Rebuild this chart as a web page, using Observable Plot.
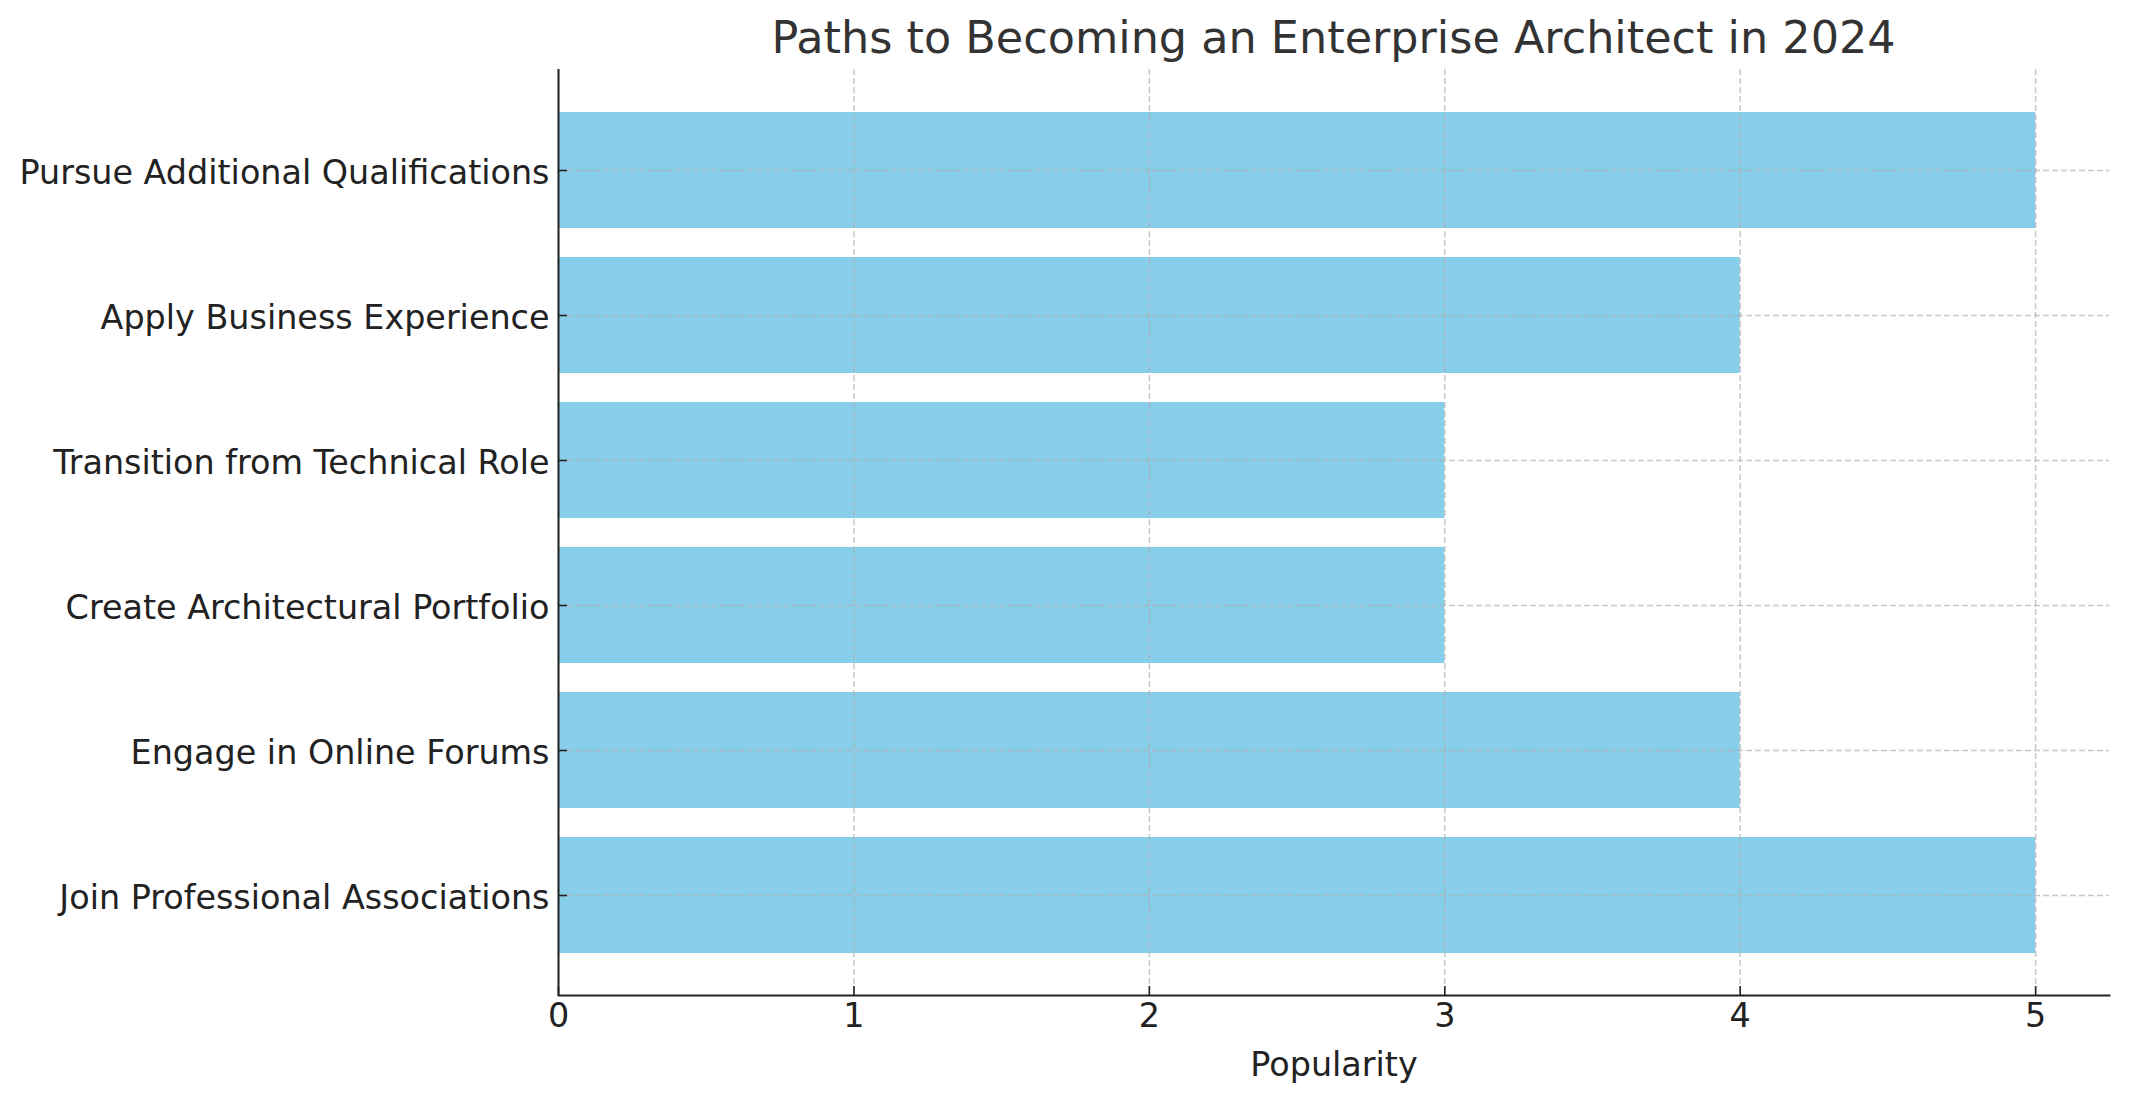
<!DOCTYPE html>
<html>
<head>
<meta charset="utf-8">
<script src="https://cdn.jsdelivr.net/npm/d3@7"></script>
<script src="https://cdn.jsdelivr.net/npm/@observablehq/plot@0.6"></script>
<style>
  html, body { margin: 0; padding: 0; background: #fff; }
  body { width: 2129px; height: 1101px; overflow: hidden; font-family: "DejaVu Sans", sans-serif; }
  #title { box-sizing: border-box; height: 66px; padding: 10px 20px 0 558px; line-height: 56px; font-size: 44.5px; color: #333; text-align: center; white-space: nowrap; }
</style>
</head>
<body>
<div id="title">Paths to Becoming an Enterprise Architect in 2024</div>
<div id="chart"></div>
<script>
const paths = [
  "Join Professional Associations",
  "Engage in Online Forums",
  "Create Architectural Portfolio",
  "Transition from Technical Role",
  "Apply Business Experience",
  "Pursue Additional Qualifications"
];
const popularity = [5, 4, 3, 3, 4, 5];
const xTicks = [0, 1, 2, 3, 4, 5];

const data = paths.map((p, i) => ({path: p, value: popularity[i]}));

const chart = Plot.plot({
  width: 2129,
  height: 1035,
  marginLeft: 558,
  marginRight: 20,
  marginTop: 3,
  marginBottom: 106,
  style: {fontFamily: "DejaVu Sans, sans-serif", fontSize: "33.4px", color: "#222", background: "#fff"},
  x: {domain: [0, 5.25], ticks: xTicks, tickFormat: d3.format("d")},
  y: {domain: paths.slice().reverse(), paddingInner: 0.2, paddingOuter: 0.29},
  marks: [
    Plot.barX(data, {x: "value", y: "path", fill: "#87CEEB"}),
    Plot.gridX(xTicks, {stroke: "#b0b0b0", strokeOpacity: 0.7, strokeWidth: 1.5, strokeDasharray: "6,3"}),
    Plot.gridY(paths, {stroke: "#b0b0b0", strokeOpacity: 0.7, strokeWidth: 1.5, strokeDasharray: "6,3"}),
    Plot.axisX(xTicks, {tickSize: 0, tickPadding: 8, fontSize: 33.4, tickFormat: d3.format("d"), label: "Popularity", labelAnchor: "center", labelOffset: 80, labelArrow: "none"}),
    Plot.axisX(xTicks, {tickSize: -9, text: null, label: null, stroke: "#222", strokeWidth: 1.6}),
    Plot.axisY(paths, {tickSize: 0, tickPadding: 9, fontSize: 33.4, dy: 3, label: null}),
    Plot.axisY(paths, {tickSize: -9, text: null, label: null, stroke: "#222", strokeWidth: 1.6}),
    Plot.ruleX([0], {stroke: "#222", strokeWidth: 2}),
    Plot.frame({anchor: "bottom", stroke: "#222", strokeWidth: 2})
  ]
});
document.getElementById("chart").appendChild(chart);
</script>
</body>
</html>
